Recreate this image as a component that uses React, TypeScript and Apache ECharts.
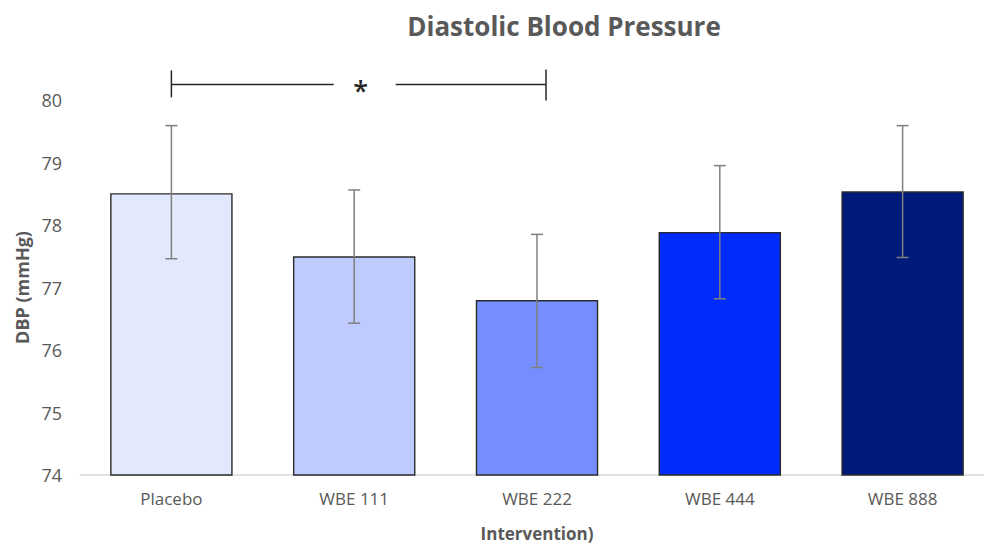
import React, { useEffect, useRef } from "react";
import * as echarts from "echarts";

const categories = ["Placebo", "WBE 111", "WBE 222", "WBE 444", "WBE 888"];
const meanValues = [78.51, 77.5, 76.8, 77.89, 78.54];
const errorLow = [77.46, 76.43, 75.72, 76.82, 77.48];
const errorHigh = [79.59, 78.56, 77.85, 78.95, 79.59];
const barColors = ["#E3E9FC", "#BFCBFD", "#748EFF", "#002CFB", "#001A7C"];
const yMin = 74;
const yMax = 80;
const yInterval = 1;
const sigFrom = 0;
const sigTo = 2;
const sigLevel = 80.25;
const sigLabel = "*";

const FONT = "'Open Sans', 'Noto Sans', sans-serif";
const TEXT = "#595959";

export default function App() {
  const ref = useRef<HTMLDivElement>(null);
  useEffect(() => {
    document.body.style.margin = "0";
    if (!ref.current) return;
    const chart = echarts.init(ref.current, null, { renderer: "svg" });
    const option: any = {
      animation: false,
      backgroundColor: "#ffffff",
      title: {
        text: "Diastolic Blood Pressure",
        left: 559,
        top: 8,
        textAlign: "center",
        textStyle: { fontFamily: FONT, fontSize: 26, fontWeight: "bold", color: TEXT },
      },
      grid: { left: 80, top: 100, width: 914, height: 375, outerBoundsMode: "none", containLabel: false },
      xAxis: {
        type: "category",
        data: categories,
        axisLine: { show: true, lineStyle: { color: "#D9D9D9", width: 1.5 } },
        axisTick: { show: false },
        axisLabel: { fontFamily: FONT, fontSize: 17, color: TEXT, margin: 15 },
        name: "Intervention)",
        nameLocation: "middle",
        nameGap: 50,
        nameTextStyle: { fontFamily: FONT, fontSize: 17, fontWeight: "bold", color: TEXT },
      },
      yAxis: {
        type: "value",
        min: yMin,
        max: yMax,
        interval: yInterval,
        axisLine: { show: false },
        axisTick: { show: false },
        splitLine: { show: false },
        axisLabel: { fontFamily: FONT, fontSize: 18, color: TEXT, margin: 18 },
        name: "DBP (mmHg)",
        nameLocation: "middle",
        nameGap: 49,
        nameRotate: 90,
        nameTextStyle: { fontFamily: FONT, fontSize: 18, fontWeight: "bold", color: TEXT },
      },
      series: [
        {
          type: "bar",
          barWidth: "67%",
          data: meanValues.map((v, i) => ({
            value: v,
            itemStyle: { color: barColors[i], borderColor: "#2b2b2b", borderWidth: 1.4 },
          })),
          z: 2,
        },
        {
          type: "custom",
          z: 5,
          data: categories.map((_, i) => [i, errorLow[i], errorHigh[i]]),
          renderItem: (params: any, api: any) => {
            const idx = api.value(0);
            const lo = api.coord([idx, api.value(1)]);
            const hi = api.coord([idx, api.value(2)]);
            const hw = 6;
            const style = { stroke: "#7F7F7F", lineWidth: 1.5, fill: "none" };
            return {
              type: "group",
              children: [
                { type: "line", shape: { x1: lo[0], y1: lo[1], x2: hi[0], y2: hi[1] }, style },
                { type: "line", shape: { x1: hi[0] - hw, y1: hi[1], x2: hi[0] + hw, y2: hi[1] }, style },
                { type: "line", shape: { x1: lo[0] - hw, y1: lo[1], x2: lo[0] + hw, y2: lo[1] }, style },
              ],
            };
          },
        },
      ],
    };
    chart.setOption(option);

    const p0 = chart.convertToPixel({ gridIndex: 0 }, [sigFrom, sigLevel]) as number[];
    const p1 = chart.convertToPixel({ gridIndex: 0 }, [sigTo, sigLevel]) as number[];
    const x0 = p0[0];
    const x1 = p1[0] + 9;
    const y = p0[1];
    const mid = (x0 + x1) / 2 + 2;
    const lineStyle = { stroke: "#262626", lineWidth: 1.5 };
    chart.setOption({
      graphic: [
        { type: "line", shape: { x1: x0, y1: y - 14, x2: x0, y2: y + 13 }, style: lineStyle },
        { type: "line", shape: { x1: x1, y1: y - 15, x2: x1, y2: y + 16 }, style: lineStyle },
        { type: "line", shape: { x1: x0, y1: y, x2: mid - 27, y2: y }, style: lineStyle },
        { type: "line", shape: { x1: mid + 35, y1: y, x2: x1, y2: y }, style: lineStyle },
        {
          type: "text",
          x: mid,
          y: y + 6,
          style: {
            text: sigLabel,
            fontFamily: FONT,
            fontSize: 27,
            fontWeight: 600,
            fill: "#262626",
            align: "center",
            verticalAlign: "middle",
          },
        },
      ],
    });

    return () => chart.dispose();
  }, []);
  return <div ref={ref} style={{ width: 984, height: 548 }} />;
}
